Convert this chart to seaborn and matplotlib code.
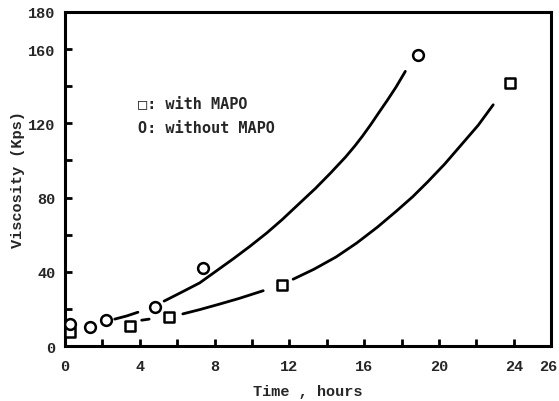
import numpy as np
import pandas as pd
import matplotlib
matplotlib.use("Agg")
import matplotlib.pyplot as plt
from matplotlib.transforms import ScaledTranslation
import seaborn as sns

# Measured viscosity (Kps) versus reaction time (hours)
with_mapo_time = [0.27, 3.46, 5.54, 11.6, 23.8]
with_mapo_visc = [7.5, 10.9, 15.7, 32.7, 141.7]

without_mapo_time = [0.27, 1.33, 2.18, 4.8, 7.4, 18.9]
without_mapo_visc = [11.8, 10.3, 14.1, 21.1, 41.8, 156.6]

# Trend curves (NaN marks a break in the drawn line)
without_curve_x = [2.66, 3.3, 3.9, np.nan, 5.3, 6.2, 7.2, 8.1, 9.0, 9.9, 10.8, 11.6,
                   12.5, 13.4, 14.2, 15.0, 15.5, 15.9, 16.35, 16.8, 17.25, 17.7, 18.2]
without_curve_y = [14.5, 16.2, 18.2, np.nan, 24.2, 28.8, 34.0, 40.5, 47.0, 53.8, 61.0, 68.0,
                   76.5, 85.0, 93.2, 101.8, 107.8, 113.0, 119.3, 126.0, 132.6, 139.5, 148.0]

with_curve_x = [4.1, 4.5, np.nan, 6.3, 7.2, 8.2, 9.3, 10.6, np.nan, 12.2, 13.3, 14.5, 15.6,
                16.7, 17.7, 18.6, 19.4, 20.3, 21.2, 22.1, 22.9]
with_curve_y = [13.9, 14.5, np.nan, 17.3, 19.6, 22.4, 25.6, 29.8, np.nan, 36.0, 41.3, 48.0, 55.5,
                64.0, 72.5, 80.5, 88.5, 98.0, 108.5, 119.0, 130.0]

x_major = [0, 4, 8, 12, 16, 20, 24, 26]
x_minor = [2, 6, 10, 14, 18, 22]
y_major = [0, 40, 80, 120, 160, 180]
y_minor = [20, 60, 100, 140]

sns.set_theme(style="white")
plt.rcParams["font.family"] = ["Liberation Mono", "DejaVu Sans Mono"]
plt.rcParams["font.weight"] = "bold"

fig = plt.figure(figsize=(5.59, 4.02), dpi=100)
ax = fig.add_axes([0.1163, 0.1368, 0.986 - 0.1163, 0.9677 - 0.1368])


def segments(xs, ys):
    df = pd.DataFrame({"x": xs, "y": ys})
    grp = df["x"].isna().cumsum()
    for _, part in df.dropna().groupby(grp[df["x"].notna()]):
        yield part


for xs, ys in [(without_curve_x, without_curve_y), (with_curve_x, with_curve_y)]:
    for part in segments(xs, ys):
        sns.lineplot(data=part, x="x", y="y", ax=ax, color="black", linewidth=2.0,
                     sort=False, estimator=None, legend=False)

sns.scatterplot(x=with_mapo_time, y=with_mapo_visc, ax=ax, marker="s", s=42,
                facecolor="white", edgecolor="black", linewidth=1.8, zorder=3)
sns.scatterplot(x=without_mapo_time, y=without_mapo_visc, ax=ax, marker="o", s=60,
                facecolor="white", edgecolor="black", linewidth=1.8, zorder=3)

ax.set_xlim(0, 26)
ax.set_ylim(0, 180)
ax.set_xticks(x_major)
ax.set_xticks(x_minor, minor=True)
ax.set_yticks(y_major)
ax.set_yticks(y_minor, minor=True)
ax.set_xticklabels([str(v) for v in x_major], fontsize=11, fontweight="bold")
ax.set_yticklabels([str(v) for v in y_major], fontsize=11, fontweight="bold")
ax.tick_params(which="both", direction="in", length=5, width=2, color="black")
ax.tick_params(axis="x", which="both", bottom=True, top=False, pad=9)
ax.tick_params(axis="y", which="both", left=True, right=False, pad=7)

# keep the last x label inside the figure
last = ax.get_xticklabels()[-1]
last.set_transform(last.get_transform() + ScaledTranslation(-3 / 100, 0, fig.dpi_scale_trans))

for sp in ax.spines.values():
    sp.set_visible(True)
    sp.set_color("black")
    sp.set_linewidth(2.2)

ax.set_xlabel("Time , hours", fontsize=11, fontweight="bold", labelpad=8)
ax.set_ylabel("Viscosity (Kps)", fontsize=11, fontweight="bold", labelpad=2)

ax.text(3.9, 131, "\u25a1: with MAPO", fontsize=11, fontweight="bold",
        va="center", ha="left", family=["DejaVu Sans Mono"])
ax.text(3.9, 118, "O: without MAPO", fontsize=11, fontweight="bold",
        va="center", ha="left", family=["DejaVu Sans Mono"])

ax.grid(False)
fig.savefig("out.png", dpi=100, facecolor="white")
